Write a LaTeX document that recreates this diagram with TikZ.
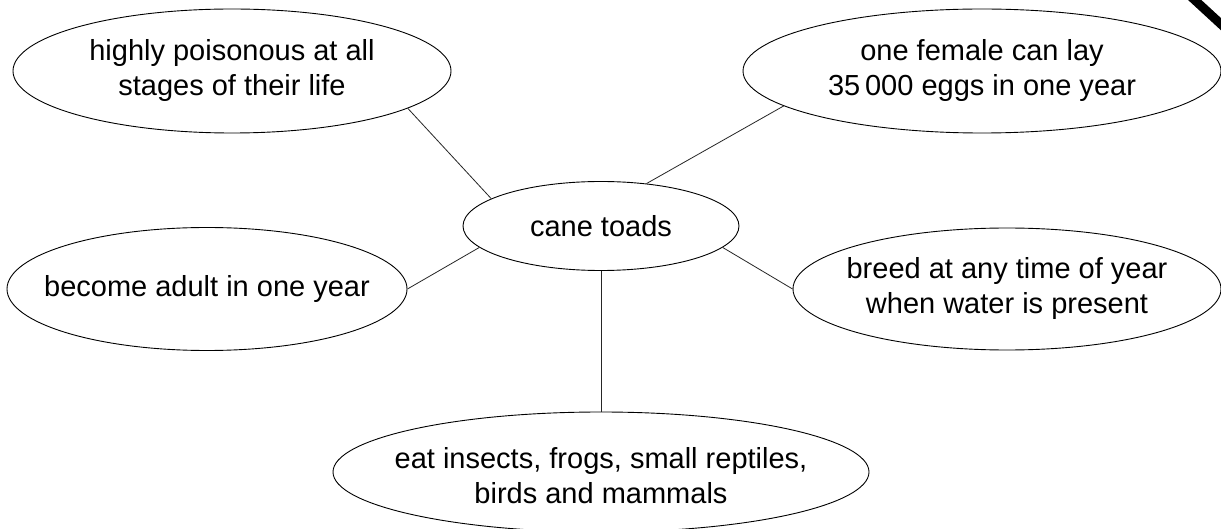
\documentclass[tikz,border=0pt]{standalone}
\usepackage{fontspec}
\setmainfont{Liberation Sans}
\usetikzlibrary{shapes.geometric}
\tikzset{
  bubble/.style={ellipse, draw, line width=0.9pt, inner sep=0pt},
  txt/.style={align=center, inner sep=0pt, font=\fontsize{29}{35}\selectfont},
  link/.style={line width=0.8pt, draw=black!85}
}
\begin{document}
\begin{tikzpicture}[x=1pt,y=-1pt]
\useasboundingbox (0,0) rectangle (1221,529);
\clip (0,0) rectangle (1221,529);
\fill[white] (0,0) rectangle (1221,529);
% ellipses
\node[bubble, minimum width=438pt, minimum height=124pt] (hp) at (232,71) {};
\node[bubble, minimum width=478pt, minimum height=124pt] (fe) at (982,71) {};
\node[bubble, minimum width=276pt, minimum height=89pt] (ct) at (601,226) {};
\node[bubble, minimum width=400pt, minimum height=123pt] (ba) at (207,289) {};
\node[bubble, minimum width=428pt, minimum height=122pt] (br) at (1007,289) {};
\node[bubble, minimum width=536pt, minimum height=120pt] (ea) at (601,472) {};
% texts
\node[txt] (thp) at (hp) {highly poisonous at all\\stages of their life};
\node[txt] (tfe) at (fe) {one female can lay\\35\,000 eggs in one year};
\node[txt] (tct) at (ct) {cane toads};
\node[txt] (tba) at (ba) {become adult in one year};
\node[txt] (tbr) at (br) {breed at any time of year\\when water is present};
\node[txt] (tea) at ([yshift=-4pt]ea.center) {eat insects, frogs, small reptiles,\\birds and mammals};
% connectors
\draw[link] (ct.166) -- (hp.-12);
\draw[link] (ct.43) -- (fe.190.7);
\draw[link] (ct.190.4) -- (ba.0.6);
\draw[link] (ct.-10.5) -- (br.180);
\draw[link] (ct.south) -- (ea.north);
% corner mark
\draw[line width=9pt, line cap=butt] (1186,-8) -- (1236,38);
\end{tikzpicture}
\end{document}
